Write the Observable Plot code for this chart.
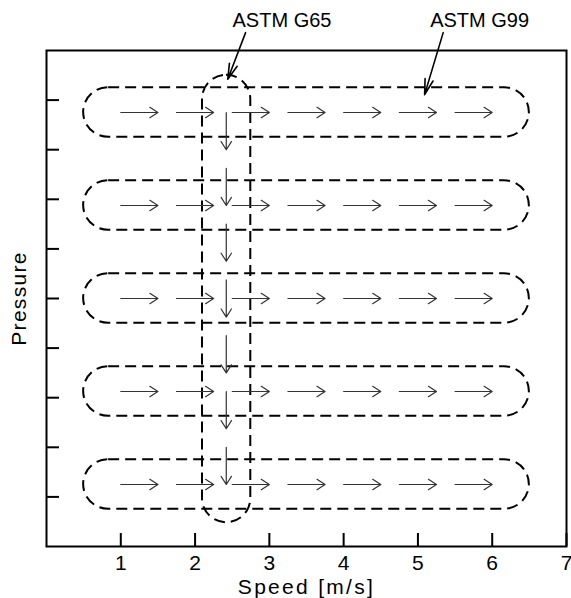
<!DOCTYPE html>
<html>
<head>
<meta charset="utf-8">
<script src="https://cdn.jsdelivr.net/npm/d3@7"></script>
<script src="https://cdn.jsdelivr.net/npm/@observablehq/plot@0.6"></script>
<style>
  html, body { margin: 0; padding: 0; background: #fff; }
</style>
</head>
<body>
<div id="chart"></div>
<script>
// Axis ticks
const xTicks = [1, 2, 3, 4, 5, 6, 7];
const yTicks = [1, 2, 3, 4, 5, 6, 7, 8, 9];

// Horizontal racetracks (ASTM G99 passes): one per pressure level
const rowCenter = [8.75, 6.875, 5, 3.125, 1.25];
const rowBottom = [8.25, 6.375, 4.5, 2.625, 0.75];
const rowTop = [9.25, 7.375, 5.5, 3.625, 1.75];
const rowLeft = 0.5;
const rowRight = 6.5;

// Vertical racetrack (ASTM G65)
const colLeft = [2.1];
const colRight = [2.75];
const colBottom = [0.48];
const colTop = [9.5];

// Horizontal arrows within each row
const hArrowStart = [1, 1.75, 2.5, 3.25, 4, 4.75, 5.5];
const hArrowEnd = [1.5, 2.25, 3, 3.75, 4.5, 5.25, 6];

// Vertical arrows down the G65 column
const vArrowX = 2.42;
const vArrowStart = [8.75, 7.625, 6.5, 5.375, 4.25, 3.125, 2.0];
const vArrowEnd = [8.0, 6.875, 5.75, 4.625, 3.5, 2.375, 1.25];

// Annotations
const annotLabels = ["ASTM G65", "ASTM G99"];
const annotTextX = [3.17, 5.83];
const annotTextY = [10.6, 10.6];
const annotFromX = [2.68, 5.34];
const annotFromY = [10.36, 10.36];
const annotToX = [2.44, 5.09];
const annotToY = [9.42, 9.11];

// Build tables
const rows = rowCenter.map((c, i) => ({c, y1: rowBottom[i], y2: rowTop[i], x1: rowLeft, x2: rowRight}));
const col = colLeft.map((x1, i) => ({x1, x2: colRight[i], y1: colBottom[i], y2: colTop[i]}));
const hArrows = [];
rowCenter.forEach(y => hArrowStart.forEach((x1, j) => hArrows.push({y, x1, x2: hArrowEnd[j]})));
const vArrows = vArrowStart.map((y1, i) => ({x: vArrowX, y1, y2: vArrowEnd[i]}));
const annots = annotLabels.map((t, i) => ({t, tx: annotTextX[i], ty: annotTextY[i], x1: annotFromX[i], y1: annotFromY[i], x2: annotToX[i], y2: annotToY[i]}));

const chart = Plot.plot({
  width: 571,
  height: 598,
  marginLeft: 46,
  marginRight: 5,
  marginTop: 50,
  marginBottom: 52,
  x: {domain: [0, 7]},
  y: {domain: [0, 10]},
  style: {fontFamily: "'Liberation Sans', Arial, sans-serif", fontSize: "21px", color: "#000", background: "#fff"},
  marks: [
    Plot.rect(rows, {x1: "x1", x2: "x2", y1: "y1", y2: "y2", rx: 25, fill: "none", stroke: "#000", strokeWidth: 2, strokeDasharray: "11,6"}),
    Plot.rect(col, {x1: "x1", x2: "x2", y1: "y1", y2: "y2", rx: 24, fill: "none", stroke: "#000", strokeWidth: 2, strokeDasharray: "11,6"}),
    Plot.arrow(hArrows, {x1: "x1", x2: "x2", y1: "y", y2: "y", stroke: "#333", strokeWidth: 1.2, headLength: 12, headAngle: 65}),
    Plot.arrow(vArrows, {x1: "x", x2: "x", y1: "y1", y2: "y2", stroke: "#333", strokeWidth: 1.2, headLength: 12, headAngle: 65}),
    Plot.arrow(annots, {x1: "x1", y1: "y1", x2: "x2", y2: "y2", stroke: "#000", strokeWidth: 1.6, headLength: 15, headAngle: 30}),
    Plot.text(annots, {x: "tx", y: "ty", text: "t", fontSize: 20, fill: "#000"}),
    Plot.frame({stroke: "#000", strokeWidth: 2}),
    Plot.axisX(xTicks, {tickSize: -13, tickFormat: () => "", strokeWidth: 2, label: null}),
    Plot.axisX(xTicks, {tickSize: 0, tickPadding: 9, label: null, fontSize: 21}),
    Plot.axisY(yTicks, {tickSize: -13, tickFormat: () => "", strokeWidth: 2, label: null}),
    Plot.text(["Speed [m/s]"], {text: d => d, frameAnchor: "bottom", lineAnchor: "bottom", dy: 47, fontSize: 21}),
    Plot.text(["Pressure"], {text: d => d, frameAnchor: "left", textAnchor: "middle", dx: -27, rotate: -90, fontSize: 21})
  ]
});
d3.select(chart).selectAll("text").each(function() {
  const t = this.textContent;
  if (t === "Speed [m/s]") d3.select(this).attr("letter-spacing", "2.3px");
  else if (t === "Pressure") d3.select(this).attr("letter-spacing", "1.3px");
});
document.getElementById("chart").appendChild(chart);
</script>
</body>
</html>
